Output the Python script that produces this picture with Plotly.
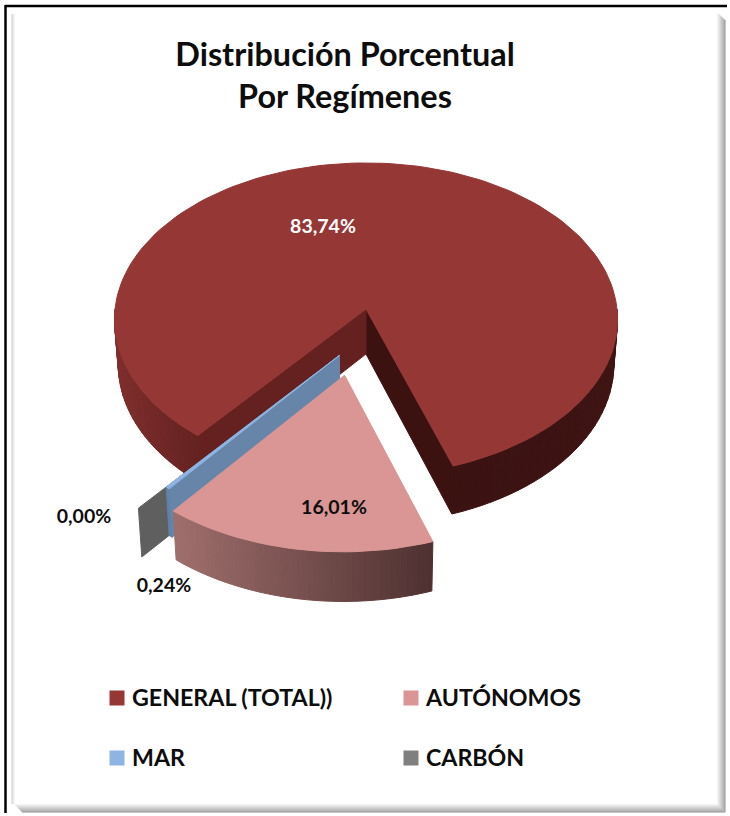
import math
import plotly.graph_objects as go

# ---- data ----
categories = ["GENERAL (TOTAL))", "AUTÓNOMOS", "MAR", "CARBÓN"]
values = [83.74, 16.01, 0.24, 0.00]
title_lines = ["Distribución Porcentual", "Por Regímenes"]

# ---- style ----
top_colors = ["#953735", "#D99694", "#8EB4E3", "#7F7F7F"]
FONT = "Lato, Carlito, Calibri, sans-serif"
W, H = 730, 816

# ---- projection of the tilted pie ----
CX, CY, RX, RY, K = 366, 309, 251, 155.7, 0.066
DEPTH, SHRINK = 45, 0.985
END_OF_FIRST = 161.0                 # clockwise from 12 o'clock
OFFSETS = [(0, 0), (-0.083, 0.414), (-0.104, 0.292), (-0.2, 0.408)]


def project(u, v, low=False):
    f = 1 / (1 - K * v)
    x = RX * u * f
    y = RY * v * f
    if low:
        return CX + x * SHRINK, CY + y + DEPTH * f
    return CX + x, CY + y


def rim(theta, off, low=False):
    t = math.radians(theta)
    return project(math.sin(t) + off[0], -math.cos(t) + off[1], low)


def mix(c1, c2, t):
    return "rgb(%d,%d,%d)" % tuple(round(a + (b - a) * t) for a, b in zip(c1, c2))


fig = go.Figure()


def poly(points, color, line=None, width=1):
    fig.add_trace(go.Scatter(
        x=[p[0] for p in points] + [points[0][0]],
        y=[p[1] for p in points] + [points[0][1]],
        mode="lines", fill="toself", fillcolor=color,
        line=dict(color=line or color, width=width),
        hoverinfo="skip", showlegend=False))


def outer_wall(a0, a1, off, c_left, c_right, x_left, x_right, n):
    """Rim wall, shaded in segments from left to right on screen."""
    lo = max(a0, 90)
    hi = min(a1, 270)
    for i in range(n):
        a = lo + (hi - lo) * i / n
        b = lo + (hi - lo) * (i + 1) / n
        xm = rim((a + b) / 2, off)[0]
        t = min(1, max(0, (xm - x_left) / (x_right - x_left)))
        poly([rim(a, off), rim(b, off), rim(b, off, True), rim(a, off, True)], mix(c_left, c_right, t))


def radial_wall(theta, off, color):
    ap_t, ap_b = project(off[0], off[1]), project(off[0], off[1], True)
    poly([ap_t, rim(theta, off), rim(theta, off, True), ap_b], color)


def top_face(a0, a1, off, color):
    n = max(2, int((a1 - a0) / 2))
    pts = [project(off[0], off[1])]
    pts += [rim(a0 + (a1 - a0) * i / n, off) for i in range(n + 1)]
    poly(pts, color)


# angular extent of each slice, in series order
total = sum(values)
sweeps = [v / total * 360 for v in values]
starts = []
angle = END_OF_FIRST - sweeps[0]
for s in sweeps:
    starts.append(angle)
    angle += s
starts[1] = END_OF_FIRST

g0, g1 = starts[0], END_OF_FIRST
# General: outer wall, inner walls, top
outer_wall(90, g1, OFFSETS[0], (58, 18, 17), (62, 20, 19), 455, 618, 30)
outer_wall(g0 + 360, 270, OFFSETS[0], (126, 46, 44), (100, 34, 33), 115, 196, 30)
radial_wall(g1, OFFSETS[0], "#3C1211")
radial_wall(g0 + 360, OFFSETS[0], "#642120")
top_face(g0, g1, OFFSETS[0], top_colors[0])

# Carbón (no sweep, only its cut face shows)
radial_wall(starts[3] % 360, OFFSETS[3], "#5F5F5F")

# Mar
a_m, b_m = starts[2] % 360, (starts[2] + sweeps[2]) % 360
outer_wall(a_m, b_m, OFFSETS[2], (95, 130, 170), (95, 130, 170), 0, 1, 1)
radial_wall(a_m, OFFSETS[2], "#6785A8")
top_face(a_m, b_m, OFFSETS[2], top_colors[2])

# Autónomos
a_a, b_a = starts[1], starts[1] + sweeps[1]
outer_wall(a_a, b_a, OFFSETS[1], (158, 110, 108), (78, 48, 48), 175, 433, 50)
top_face(a_a, b_a, OFFSETS[1], top_colors[1])

# ---- percentage labels ----
labels = [f"{v:.2f}".replace(".", ",") + "%" for v in values]
label_pos = [(323, 228), (334, 509), (164, 587), (84, 518)]
label_col = ["white", "#0d0d0d", "#0d0d0d", "#0d0d0d"]
for lab, (x, y), c in zip(labels, label_pos, label_col):
    fig.add_trace(go.Scatter(x=[x], y=[y], mode="text", text=[lab],
                             textfont=dict(family=FONT, size=19.5, color=c, weight="bold"),
                             textposition="middle center", hoverinfo="skip", showlegend=False))

# ---- legend, two columns by two rows ----
legend_xy = [(117, 698), (411, 698), (117, 758), (411, 758)]
for name, color, (x, y) in zip(categories, top_colors, legend_xy):
    fig.add_trace(go.Scatter(x=[x], y=[y], mode="markers",
                             marker=dict(symbol="square", size=15, color=color, line_width=0),
                             hoverinfo="skip", showlegend=False))
    fig.add_trace(go.Scatter(x=[x + 15], y=[y + 2], mode="text", text=[name],
                             textfont=dict(family=FONT, size=23.2, color="#0d0d0d", weight="bold"),
                             textposition="middle right", hoverinfo="skip", showlegend=False))

# ---- frame with bevel ----
shapes = []
for i in range(9):
    g = 250 - i * 14
    col = f"rgb({g},{g},{g})"
    shapes.append(dict(type="line", xref="x", yref="y", x0=717 + i, x1=717 + i, y0=12 + i, y1=804 + i,
                       line=dict(color=col, width=1)))
    shapes.append(dict(type="line", xref="x", yref="y", x0=14 + i, x1=717 + i, y0=804 + i, y1=804 + i,
                       line=dict(color=col, width=1)))
for i, g in enumerate((205, 215, 235)):
    shapes.append(dict(type="line", xref="x", yref="y", x0=12 + i, x1=12 + i, y0=14, y1=804,
                       line=dict(color=f"rgb({g},{g},{g})", width=1)))
shapes.append(dict(type="line", xref="x", yref="y", x0=5.5, x1=5.5, y0=5, y1=813, line=dict(color="black", width=2.5)))
shapes.append(dict(type="line", xref="x", yref="y", x0=5, x1=727, y0=6, y1=6, line=dict(color="black", width=2.5)))

fig.update_layout(
    width=W, height=H, margin=dict(l=0, r=0, t=0, b=0),
    paper_bgcolor="white", plot_bgcolor="white", showlegend=False,
    xaxis=dict(visible=False, range=[0, W], fixedrange=True),
    yaxis=dict(visible=False, range=[H, 0], fixedrange=True),
    shapes=shapes,
    title=dict(text="<br>".join(title_lines), x=345 / W, xanchor="center", y=1 - 66 / H, yanchor="middle",
               font=dict(family=FONT, size=32.4, color="#0d0d0d", weight="bold")),
)
fig.write_html("out.html", config={"displayModeBar": False},
               post_script="document.body.style.margin='0';document.body.style.overflow='hidden';")
